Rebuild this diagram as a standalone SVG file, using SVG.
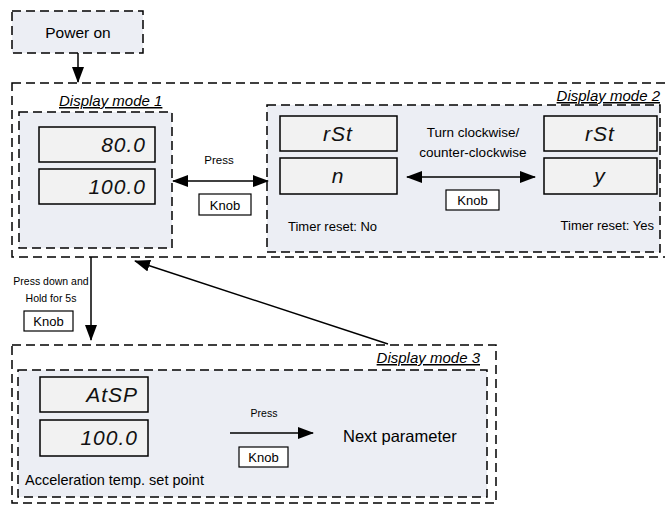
<svg xmlns="http://www.w3.org/2000/svg" width="665" height="506" viewBox="0 0 665 506">
<defs>
<style>
.box{fill:#eceef4;stroke:#000;stroke-width:1.5;stroke-dasharray:9 5}
.outer{fill:none;stroke:#000;stroke-width:1.5;stroke-dasharray:9 5}
.lcd{fill:#f2f2f2;stroke:#000;stroke-width:1.5}
.knob{fill:#fff;stroke:#000;stroke-width:1.2}
.t{font-family:"Liberation Sans",Arial,sans-serif;fill:#000}
.seg{font-family:"Liberation Sans",Arial,sans-serif;font-style:italic;font-size:21px;fill:#111;letter-spacing:1px}
.lbl{font-family:"Liberation Sans",Arial,sans-serif;font-style:italic;font-size:15px;fill:#000;text-decoration:underline}
.ln{stroke:#000;stroke-width:1.5;fill:none}
</style>
<marker id="ahl" markerWidth="16" markerHeight="12" refX="15" refY="6" orient="auto-start-reverse" markerUnits="userSpaceOnUse" viewBox="0 0 16 12">
<path d="M0,0 L16,6 L0,12 z" fill="#000"/>
</marker>
</defs>

<g id="power-on">
<rect class="box" x="12" y="11" width="131" height="42"/>
<text class="t" x="78" y="38" font-size="15.5" text-anchor="middle">Power on</text>
</g>

<g id="mode12-outer">
<rect class="outer" x="12" y="83" width="670" height="174"/>
</g>

<g id="display-mode-1">
<rect class="box" x="19" y="112" width="153" height="136"/>
<text class="lbl" x="59" y="106">Display mode 1</text>
<rect class="lcd" x="39" y="127" width="116" height="35"/>
<text class="seg" x="146" y="152" text-anchor="end">80.0</text>
<rect class="lcd" x="39" y="169" width="116" height="35"/>
<text class="seg" x="146" y="194" text-anchor="end">100.0</text>
</g>

<g id="display-mode-2">
<rect class="box" x="267" y="105" width="393" height="147"/>
<text class="lbl" x="660" y="101" text-anchor="end">Display mode 2</text>
<rect class="lcd" x="280" y="116" width="117" height="35"/>
<text class="seg" x="338" y="141" text-anchor="middle">rSt</text>
<rect class="lcd" x="280" y="158" width="117" height="36"/>
<text class="seg" x="338" y="183" text-anchor="middle">n</text>
<rect class="lcd" x="544" y="116" width="113" height="35"/>
<text class="seg" x="600" y="141" text-anchor="middle">rSt</text>
<rect class="lcd" x="544" y="158" width="113" height="36"/>
<text class="seg" x="600" y="183" text-anchor="middle">y</text>
<text class="t" x="473" y="137" font-size="13.5" text-anchor="middle">Turn clockwise/</text>
<text class="t" x="473" y="157" font-size="13.5" text-anchor="middle">counter-clockwise</text>
<rect class="knob" x="446" y="190" width="53" height="20"/>
<text class="t" x="472.5" y="205" font-size="13" text-anchor="middle">Knob</text>
<text class="t" x="288" y="231" font-size="13">Timer reset: No</text>
<text class="t" x="654" y="230" font-size="13" text-anchor="end">Timer reset: Yes</text>
</g>

<g id="mode1-to-mode2-label">
<text class="t" x="219" y="164" font-size="11.5" text-anchor="middle">Press</text>
<rect class="knob" x="199" y="194" width="52" height="21"/>
<text class="t" x="225" y="209.5" font-size="13" text-anchor="middle">Knob</text>
</g>

<g id="hold-label">
<text class="t" x="51" y="285" font-size="10.5" text-anchor="middle">Press down and</text>
<text class="t" x="51" y="302" font-size="10.5" text-anchor="middle">Hold for 5s</text>
<rect class="knob" x="24" y="311" width="49" height="20"/>
<text class="t" x="48.5" y="326" font-size="13" text-anchor="middle">Knob</text>
</g>

<g id="display-mode-3">
<rect class="outer" x="12" y="345" width="484" height="158"/>
<text class="lbl" x="480" y="363" text-anchor="end">Display mode 3</text>
<rect class="box" x="18" y="370" width="469" height="127"/>
<rect class="lcd" x="40" y="377" width="108" height="35"/>
<text class="seg" x="138" y="402" text-anchor="end">AtSP</text>
<rect class="lcd" x="40" y="420" width="108" height="36"/>
<text class="seg" x="138" y="445" text-anchor="end">100.0</text>
<text class="t" x="25" y="485" font-size="14.5">Acceleration temp. set point</text>
<text class="t" x="264" y="417" font-size="10.5" text-anchor="middle">Press</text>
<rect class="knob" x="239" y="447" width="49" height="20"/>
<text class="t" x="263.5" y="462" font-size="13" text-anchor="middle">Knob</text>
<text class="t" x="343" y="442" font-size="16.5">Next parameter</text>
</g>

<g id="connectors">
<line class="ln" x1="78" y1="53" x2="78" y2="82" marker-end="url(#ahl)"/>
<line class="ln" x1="173" y1="181" x2="268" y2="181" marker-start="url(#ahl)" marker-end="url(#ahl)"/>
<line class="ln" x1="407" y1="177" x2="535" y2="177" marker-start="url(#ahl)" marker-end="url(#ahl)"/>
<line class="ln" x1="91" y1="257" x2="91" y2="340" marker-end="url(#ahl)"/>
<line class="ln" x1="388" y1="344" x2="135" y2="261" marker-end="url(#ahl)"/>
<line class="ln" x1="230" y1="433" x2="313" y2="433" marker-end="url(#ahl)"/>
</g>
</svg>
